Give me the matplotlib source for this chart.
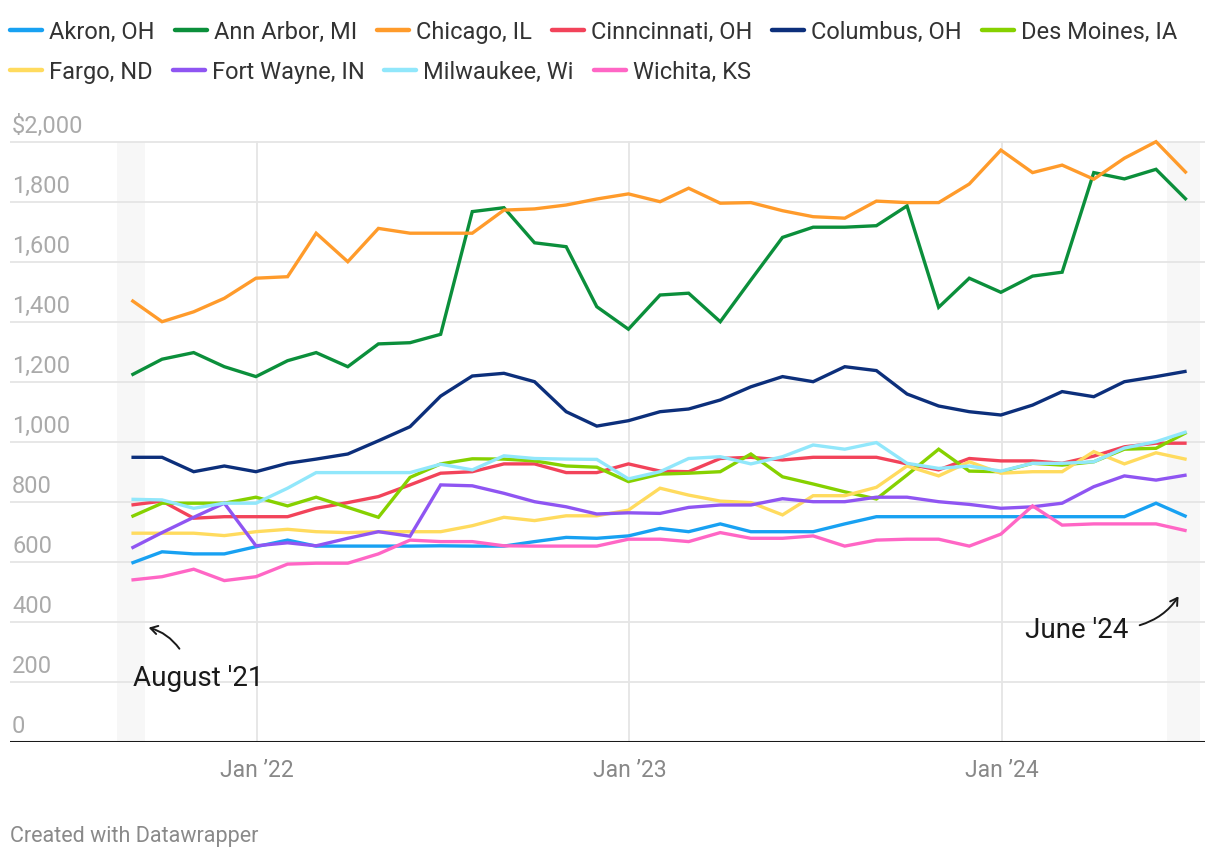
import pandas as pd
import matplotlib.pyplot as plt
import matplotlib.transforms as mtransforms

plt.rcParams["font.family"] = ["Roboto", "DejaVu Sans"]

# monthly rent, Aug 2021 .. Jun 2024 (35 months, month-end dates)
dates = pd.date_range("2021-08-31", periods=35, freq="ME")

akron = [596, 634, 627, 627, 651, 673, 653, 653, 653, 653,
         654, 653, 653, 668, 682, 679, 687, 712, 701, 727,
         701, 701, 701, 727, 751, 751, 751, 751, 751, 751,
         751, 751, 751, 796, 751]
ann_arbor = [1223, 1276, 1298, 1251, 1218, 1271, 1298, 1251, 1327, 1331,
             1359, 1768, 1781, 1664, 1651, 1451, 1376, 1490, 1496, 1401,
             1540, 1682, 1716, 1716, 1721, 1787, 1449, 1546, 1499, 1553,
             1566, 1898, 1877, 1909, 1807]
chicago = [1473, 1401, 1434, 1479, 1546, 1551, 1696, 1601, 1712, 1696,
           1696, 1696, 1773, 1777, 1790, 1810, 1827, 1801, 1846, 1796,
           1798, 1771, 1751, 1746, 1803, 1798, 1798, 1860, 1973, 1898,
           1923, 1876, 1946, 2001, 1896]
cincinnati = [790, 803, 746, 751, 751, 751, 779, 798, 818, 857,
              896, 901, 927, 927, 898, 898, 927, 903, 901, 945,
              949, 940, 949, 949, 949, 927, 907, 945, 937, 937,
              929, 953, 984, 996, 996]
columbus = [949, 949, 901, 920, 901, 929, 943, 960, 1004, 1051,
            1153, 1220, 1229, 1201, 1101, 1053, 1071, 1101, 1110, 1140,
            1184, 1218, 1201, 1251, 1238, 1160, 1120, 1101, 1090, 1123,
            1168, 1151, 1201, 1218, 1236]
des_moines = [751, 796, 796, 796, 816, 787, 816, 782, 749, 882,
              927, 944, 943, 937, 920, 916, 868, 893, 896, 901,
              960, 884, 860, 834, 810, 890, 976, 903, 901, 929,
              923, 934, 976, 979, 1032]
fargo = [696, 696, 696, 688, 701, 709, 701, 698, 701, 701,
         701, 721, 749, 738, 754, 754, 773, 846, 823, 803,
         798, 757, 821, 821, 849, 920, 887, 934, 896, 901,
         901, 968, 927, 964, 942]
fort_wayne = [646, 698, 749, 796, 654, 664, 654, 679, 701, 686,
              857, 854, 829, 801, 784, 760, 764, 762, 782, 790,
              790, 811, 801, 801, 816, 816, 801, 792, 779, 784,
              796, 851, 887, 873, 890]
milwaukee = [809, 807, 779, 796, 796, 846, 898, 898, 898, 898,
             926, 907, 954, 945, 943, 942, 877, 901, 945, 951,
             927, 951, 990, 976, 998, 929, 912, 920, 903, 929,
             929, 934, 980, 1001, 1034]
wichita = [540, 551, 576, 538, 551, 593, 596, 596, 627, 673,
           668, 668, 654, 653, 653, 653, 676, 676, 668, 698,
           679, 679, 687, 653, 673, 676, 676, 653, 693, 787,
           723, 727, 727, 727, 704]

names = ["Akron, OH", "Ann Arbor, MI", "Chicago, IL", "Cinncinnati, OH",
         "Columbus, OH", "Des Moines, IA", "Fargo, ND", "Fort Wayne, IN",
         "Milwaukee, Wi", "Wichita, KS"]
series = [akron, ann_arbor, chicago, cincinnati, columbus, des_moines,
          fargo, fort_wayne, milwaukee, wichita]
colors = ["#18a1f2", "#0b8f3b", "#ff9b2b", "#f2435a", "#0c2f7b",
          "#86d100", "#ffdb5e", "#8f55f2", "#91e7fb", "#ff66c5"]

y_ticks = [0, 200, 400, 600, 800, 1000, 1200, 1400, 1600, 1800, 2000]
y_labels = ["0", "200", "400", "600", "800", "1,000", "1,200", "1,400",
            "1,600", "1,800", "$2,000"]
x_ticks = pd.to_datetime(["2022-01-01", "2023-01-01", "2024-01-01"])
x_labels = ["Jan \u201922", "Jan \u201923", "Jan \u201924"]

W, H = 1220, 858
fig = plt.figure(figsize=(W / 100, H / 100), dpi=100)
ax = fig.add_axes([10 / W, 116 / H, 1195 / W, 612 / H])

ax.set_xlim(pd.Timestamp("2021-05-04"), pd.Timestamp("2024-07-18"))
ax.set_ylim(0, 2040)

# highlighted months
top = 2000 / 2040
ax.axvspan(pd.Timestamp("2021-08-17"), pd.Timestamp("2021-09-13"),
           ymax=top, color="#f7f7f7", lw=0, zorder=0)
ax.axvspan(pd.Timestamp("2024-06-11"), pd.Timestamp("2024-07-13"),
           ymax=top, color="#f7f7f7", lw=0, zorder=0)

for v in y_ticks[1:]:
    ax.axhline(v, color="#e5e5e5", lw=1.3, zorder=1)
for d in x_ticks:
    ax.plot([d, d], [0, 2000], color="#e5e5e5", lw=1.3, zorder=1)
ax.axhline(0, color="#1a1a1a", lw=2.2, zorder=5)

for vals, c in zip(series, colors):
    ax.plot(dates, vals, color=c, lw=2.4, solid_joinstyle="miter",
            solid_capstyle="butt", zorder=3)

for s in ax.spines.values():
    s.set_visible(False)
ax.set_yticks([])
ax.set_xticks(x_ticks)
ax.set_xticklabels(x_labels, fontsize=16.5, color="#888888")
ax.tick_params(axis="x", length=0, pad=12)

trans = mtransforms.blended_transform_factory(ax.transAxes, ax.transData)
for v, lab in zip(y_ticks, y_labels):
    ax.text(2 / 1195, v + 29, lab, transform=trans, ha="left", va="baseline",
            fontsize=17, color="#aaaaaa")

# legend, two rows
fig.canvas.draw()
renderer = fig.canvas.get_renderer()
rows = [names[:6], names[6:]]
row_y = [858 - 29.5, 858 - 70]
k = 0
for r, row in enumerate(rows):
    x = 10
    for name in row:
        fig.add_artist(plt.Line2D([x / W, (x + 32) / W], [row_y[r] / H] * 2,
                                  color=colors[k], lw=3.2,
                                  solid_capstyle="round",
                                  transform=fig.transFigure))
        t = fig.text((x + 39) / W, row_y[r] / H, name, fontsize=17,
                     color="#333333", ha="left", va="center_baseline")
        bb = t.get_window_extent(renderer)
        x = bb.x1 + 20
        k += 1

# annotations
ax.annotate("", xy=(146, H - 627), xytext=(181, H - 651),
            xycoords="figure pixels", textcoords="figure pixels",
            arrowprops=dict(arrowstyle="->,head_length=0.5,head_width=0.3",
                            color="#1a1a1a", lw=1.4,
                            connectionstyle="arc3,rad=0.2"))
fig.text(133 / W, (H - 675) / H, "August '21", fontsize=20, color="#1a1a1a",
         ha="left", va="center_baseline")
ax.annotate("", xy=(1180, H - 594), xytext=(1137, H - 626),
            xycoords="figure pixels", textcoords="figure pixels",
            arrowprops=dict(arrowstyle="->,head_length=0.5,head_width=0.3",
                            color="#1a1a1a", lw=1.4,
                            connectionstyle="arc3,rad=0.2"))
fig.text(1128 / W, (H - 628) / H, "June '24", fontsize=20, color="#1a1a1a",
         ha="right", va="center_baseline")

fig.text(10 / W, (H - 834) / H, "Created with Datawrapper", fontsize=15.5,
         color="#8a8a8a", ha="left", va="center_baseline")

fig.savefig("out.png", dpi=100)
